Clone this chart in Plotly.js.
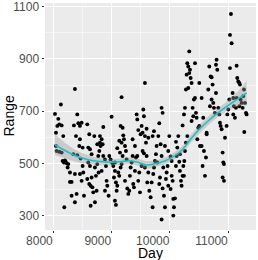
<!DOCTYPE html>
<html>
<head>
<meta charset="utf-8">
<script src="https://cdn.plot.ly/plotly-3.0.1.min.js"></script>
<style>html,body{margin:0;padding:0;background:#fff;}#chart{width:258px;height:260px;}</style>
</head>
<body>
<div id="chart"></div>
<script>
// Scatter points: Day and Range
const dayValues = [
8029,8046,8069,8086,8103,8131,8143,8171,8046,8057,8103,8143,8160,8183,8211,8229,8200,8189,8257,8246,
8286,8286,8314,8314,8371,8400,8354,8371,8411,8429,8486,8457,8389,8457,8446,8503,8411,8469,8503,8371,8514,8486,8526,8457,8343,
8583,8617,8600,8629,8657,8600,8629,8583,8617,8640,8671,8657,8686,8640,8714,8743,8731,8714,8754,8771,8789,8754,8800,8829,8811,8846,8857,8800,8857,8886,8903,8914,8886,8926,8949,8960,8703,8829,8777,
9000,8983,9017,9029,9057,9057,9040,9074,9097,9057,9074,9086,9131,9114,9154,9171,9189,9143,9097,9171,9154,9189,9200,9211,9229,9246,9171,9131,9257,9229,9269,9286,9303,9314,9326,9343,9360,9371,9383,9400,9417,9429,9440,9457,9440,9474,9486,9457,9400,9360,
9571,9543,9554,9514,9531,9497,9571,9600,9589,9629,9531,9554,9600,9514,9571,9629,9611,9646,9669,9703,9686,9714,9726,9743,9760,9771,9726,9703,9800,9857,9874,9817,9840,9857,9886,9829,9817,9874,9897,9914,9857,9931,9943,9960,9971,9989,9914,9971,9783,
10011,10029,10029,10046,10057,10069,10057,10086,10011,10103,10114,10126,10103,10143,10160,10171,10189,10200,10217,10171,10229,10246,10257,10274,10240,10257,10240,10274,10286,10297,10314,10331,10343,10354,10331,10371,10314,10389,10400,10429,10411,10429,10446,10371,10457,10486,10469,10503,10514,10297,10217,
10503,10543,10571,10543,10583,10560,10600,10617,10629,10657,10674,10697,10714,10731,10714,10743,10754,10686,10771,10789,10800,10789,10811,10829,10846,10857,10869,10886,10903,10914,10926,10903,10926,10943,10971,10983,11000,11017,10629,
11029,11029,11046,11057,11074,11086,11097,11114,11131,11143,11154,11171,11189,11200,11211,11229,11246,11257,11269,11286,11303,11314,11274,11143,11086,11189
];
const rangeValues = [
690,618,644,671,650,726,646,605,567,548,545,542,510,504,507,501,512,333,498,485,
466,430,430,377,352,384,646,785,688,654,656,644,605,593,567,561,532,519,491,460,466,434,377,460,536,
650,612,561,555,536,504,491,441,422,415,409,447,390,339,352,396,453,485,498,529,548,574,580,593,567,574,640,605,529,516,491,434,396,415,377,529,605,472,466,
679,516,501,491,504,472,447,428,415,358,342,396,453,466,485,498,529,542,559,580,644,637,608,593,567,548,754,587,516,434,405,384,396,453,485,504,529,422,409,472,523,688,669,628,529,466,390,434,567,593,
808,707,681,644,618,612,605,633,580,599,548,539,529,491,485,466,428,396,371,333,428,460,485,510,536,567,624,605,605,713,694,654,574,529,485,447,422,405,377,333,286,441,466,491,548,605,567,415,504,
527,510,453,434,365,333,301,367,403,491,529,561,583,605,507,472,434,415,453,536,491,510,548,580,453,713,688,783,840,884,871,929,859,827,846,808,789,713,681,884,745,751,694,663,675,637,593,644,567,605,646,
808,751,675,567,548,491,453,523,612,783,871,833,830,802,745,732,713,719,694,770,897,878,859,713,688,656,644,631,542,504,498,447,434,599,644,688,707,745,618,
865,992,1072,960,770,751,719,675,713,874,827,814,808,802,745,732,713,758,783,732,694,688,621,751,688,719
];
// Smoothed fit and its confidence half-width
const smoothX = [8029,8200,8400,8600,8800,9000,9150,9300,9450,9600,9750,9900,10050,10200,10350,10500,10650,10800,10950,11100,11250,11314];
const smoothY = [572,550,528,515,508,505,507,511,505,495,500,509,526,550,592,630,662,690,715,738,760,770];
const smoothSE = [40,30,22,17,13,12,12,13,13,14,13,13,13,14,15,16,16,16,18,24,38,48];
const xTitle = 'Day';
const yTitle = 'Range';

const lower = smoothY.map((v,i)=>v-smoothSE[i]);
const upper = smoothY.map((v,i)=>v+smoothSE[i]);

const traces = [
  {x: dayValues, y: rangeValues, type:'scatter', mode:'markers',
   marker:{color:'#000000', size:3.9}, hoverinfo:'skip'},
  {x: smoothX, y: lower, type:'scatter', mode:'lines', line:{width:0, shape:'spline'}, hoverinfo:'skip'},
  {x: smoothX, y: upper, type:'scatter', mode:'lines', line:{width:0, shape:'spline'},
   fill:'tonexty', fillcolor:'rgba(153,153,153,0.4)', hoverinfo:'skip'},
  {x: smoothX, y: smoothY, type:'scatter', mode:'lines', line:{color:'#1EBFC4', width:1.5, shape:'spline'}, hoverinfo:'skip'}
];

const axisFont = {family:'Liberation Sans, Arial, sans-serif', size:12, color:'#4D4D4D'};
const titleFont = {family:'Liberation Sans, Arial, sans-serif', size:14, color:'#000000'};

const layout = {
  width:258, height:260,
  margin:{l:45, r:2, t:3, b:30, pad:0},
  paper_bgcolor:'#FFFFFF', plot_bgcolor:'#EBEBEB',
  showlegend:false,
  font:{family:'Liberation Sans, Arial, sans-serif'},
  xaxis:{
    range:[7858,11475], tickvals:[8000,9000,10000,11000], ticktext:['8000','9000','10000','11000'],
    showgrid:true, gridcolor:'#FFFFFF', gridwidth:1,
    minor:{tickvals:[8500,9500,10500], showgrid:true, gridcolor:'#FFFFFF', gridwidth:0.5, ticks:''},
    zeroline:false, showline:false,
    ticks:'outside', ticklen:2, tickwidth:1, tickcolor:'#333333',
    tickfont:axisFont, ticklabeloverflow:'allow', ticklabelposition:'outside left'
  },
  yaxis:{
    range:[246,1114], tickvals:[300,500,700,900,1100], ticktext:['300','500','700','900','1100'],
    showgrid:true, gridcolor:'#FFFFFF', gridwidth:1,
    minor:{tickvals:[400,600,800,1000], showgrid:true, gridcolor:'#FFFFFF', gridwidth:0.5, ticks:''},
    zeroline:false, showline:false,
    ticks:'outside', ticklen:2.5, tickwidth:1, tickcolor:'#333333',
    tickfont:axisFont, ticklabeloverflow:'allow'
  },
  annotations:[
    {text:xTitle, xref:'paper', yref:'paper', x:0.5, y:0, yshift:-23, xanchor:'center', yanchor:'middle',
     showarrow:false, font:titleFont},
    {text:yTitle, xref:'paper', yref:'paper', x:0, y:0.5, xshift:-37, xanchor:'center', yanchor:'middle',
     textangle:-90, showarrow:false, font:titleFont}
  ]
};

Plotly.newPlot('chart', traces, layout, {displayModeBar:false, staticPlot:true});
</script>
</body>
</html>
